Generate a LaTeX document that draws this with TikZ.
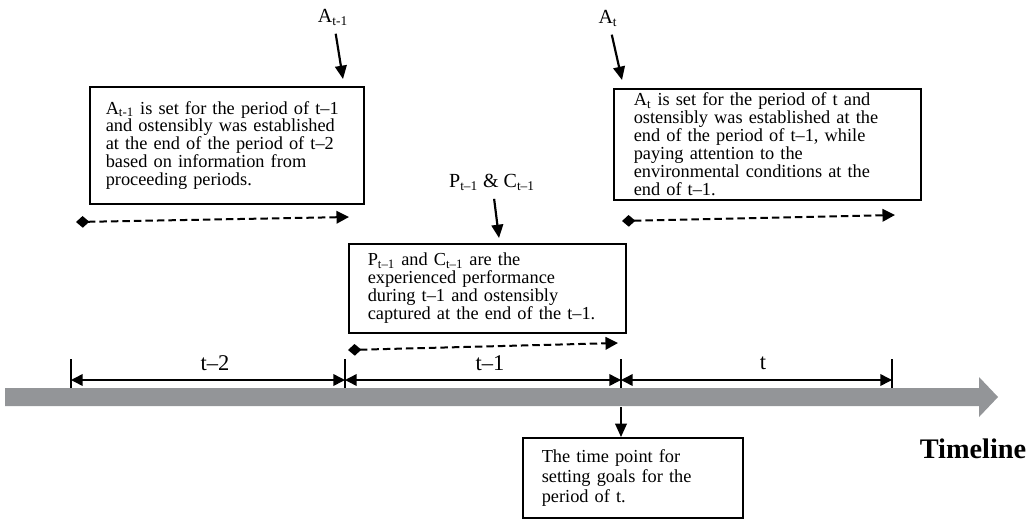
\documentclass[tikz,border=0pt]{standalone}
\usepackage{fontspec}
\setmainfont{Liberation Serif}
\usetikzlibrary{arrows.meta, positioning}
\definecolor{bandgray}{RGB}{147,149,152}
\newcommand{\notefont}{\fontsize{11}{10.7}\selectfont\lineskiplimit=-10pt\relax}

\begin{document}
\begin{tikzpicture}[x=0.6pt, y=-0.6pt,
  note/.style={draw, line width=0.9pt, anchor=north west, align=left, inner ysep=0pt,
    font=\notefont},
  pointer/.style={line width=1.3pt, shorten <=4pt, -{Triangle[length=8pt,width=7pt]}},
  periodspan/.style={line width=0.9pt, {Triangle[length=7pt,width=7pt]}-{Triangle[length=7pt,width=7pt]}},
  carry/.style={line width=1.2pt, dash pattern=on 4.5pt off 2.4pt,
    {Diamond[length=8pt,width=7pt]}-{Triangle[length=7.5pt,width=7.5pt]}},
  tickline/.style={line width=0.9pt},
  lbl/.style={inner sep=1pt, font=\fontsize{12}{12}\selectfont},
  plbl/.style={inner sep=1pt, font=\fontsize{13.5}{13.5}\selectfont}]
  \useasboundingbox (0,0) rectangle (1036,519);

  % timeline band
  \fill[bandgray] (5,388) -- (979,388) -- (979,377) -- (998,397) -- (979,417)
    -- (979,406) -- (5,406) -- cycle;
  \node[font=\fontsize{17}{17}\selectfont\bfseries] (tl) at (973,449) {Timeline};

  % period boundaries
  \coordinate (k0) at (71,359);   \coordinate (k0b) at (71,388);
  \coordinate (k1) at (345,359);  \coordinate (k1b) at (345,388);
  \coordinate (k2) at (621,359);  \coordinate (k2b) at (621,388);
  \coordinate (k3) at (892,359);  \coordinate (k3b) at (892,388);
  \draw[tickline] (k0) -- (k0b);  \draw[tickline] (k1) -- (k1b);
  \draw[tickline] (k2) -- (k2b);  \draw[tickline] (k3) -- (k3b);
  \coordinate (s0) at (71,380);   \coordinate (s1) at (345,380);
  \coordinate (s2) at (621,380);  \coordinate (s3) at (892,380);
  \draw[periodspan] (s0) -- (s1);
  \draw[periodspan] (s1) -- (s2);
  \draw[periodspan] (s2) -- (s3);
  \node[plbl] (p0) at (215,363) {t–2};
  \node[plbl] (p1) at (490,363) {t–1};
  \node[plbl] (p2) at (763,363) {t};

  % explanation boxes
  \node[note, inner xsep=9.6pt, text width=145.2pt, minimum height=70.2pt] (prev) at (89,86)
    {A\textsubscript{t-1} is set for the period of t–1\\
     and ostensibly was established\\
     at the end of the period of t–2\\
     based on information from\\
     proceeding periods.};
  \node[note, inner xsep=12pt, text width=160.2pt, minimum height=66.6pt] (curr) at (613,88)
    {A\textsubscript{t} is set for the period of t and\\
     ostensibly was established at the\\
     end of the period of t–1, while\\
     paying attention to the\\
     environmental conditions at the\\
     end of t–1.};
  \node[note, inner xsep=11.4pt, text width=143.4pt, minimum height=53.4pt] (perf) at (348,243)
    {P\textsubscript{t–1} and C\textsubscript{t–1} are the\\
     experienced performance\\
     during t–1 and ostensibly\\
     captured at the end of the t–1.};
  \node[note, inner xsep=11.4pt, text width=109.2pt, minimum height=48pt,
    font=\fontsize{11}{12}\selectfont] (goal) at (522,437)
    {The time point for\\
     setting goals for the\\
     period of t.};

  % labels and pointers
  \node[lbl] (la1) at (333,17) {A\textsubscript{t-1}};
  \node[lbl] (la2) at (608,18) {A\textsubscript{t}};
  \node[lbl] (lpc) at (492,182) {P\textsubscript{t–1} \& C\textsubscript{t–1}};
  \coordinate (ta1) at (343,79);
  \coordinate (ta2) at (622,80);
  \coordinate (tpc) at (499,238);
  \draw[pointer] (la1) -- (ta1);
  \draw[pointer] (la2) -- (ta2);
  \draw[pointer] (lpc) -- (tpc);

  % carried periods
  \coordinate (c1a) at (76,222);   \coordinate (c1b) at (349,217);
  \coordinate (c2a) at (348,350);  \coordinate (c2b) at (618,343);
  \coordinate (c3a) at (622,221);  \coordinate (c3b) at (895,215);
  \draw[carry] (c1a) -- (c1b);
  \draw[carry] (c2a) -- (c2b);
  \draw[carry] (c3a) -- (c3b);

  % goal setting point
  \coordinate (g0) at (621,407);
  \draw[line width=0.9pt, -{Triangle[length=8pt,width=7pt]}] (g0) -- (g0 |- goal.north);
\end{tikzpicture}
\end{document}
